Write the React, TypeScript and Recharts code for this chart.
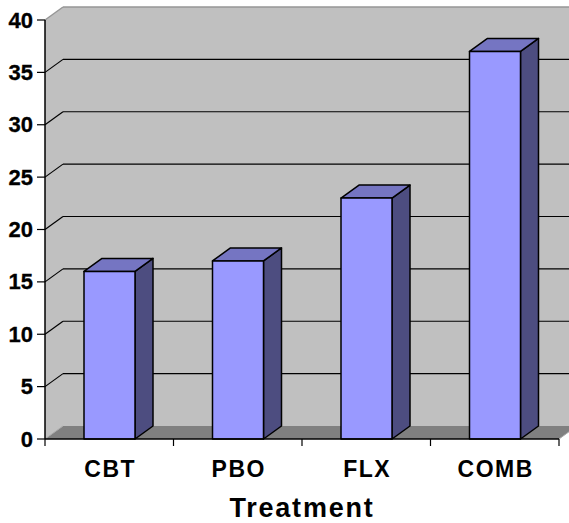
import React from 'react';
import { BarChart, Bar, XAxis, YAxis, CartesianGrid, ReferenceArea } from 'recharts';

// Treatment groups and their scores
const categories = ['CBT', 'PBO', 'FLX', 'COMB'];
const scores = [16, 17, 23, 37];
const yTicks = [0, 5, 10, 15, 20, 25, 30, 35, 40];
const xTitle = 'Treatment';

const data = categories.map((name, i) => ({ name, value: scores[i] }));

// 3D depth offset of the walls and boxes
const DX = 18;
const DY = -13;
const FONT = '"Liberation Sans", Arial, Helvetica, sans-serif';

const WALL = '#C0C0C0';
const FLOOR = '#808080';
const EDGE = '#969696';

// Side wall, back wall and floor behind the plot area
const Walls = (props: any) => {
  const { x, y, width, height } = props;
  const b = y + height;
  const r = x + width;
  return (
    <g>
      <polygon points={`${x},${b} ${x},${y} ${x + DX},${y + DY} ${x + DX},${b + DY}`} fill={WALL} />
      <rect x={x + DX} y={y + DY} width={width} height={height} fill={WALL} />
      <polygon points={`${x},${b} ${x + DX},${b + DY} ${r + DX},${b + DY} ${r},${b}`} fill={FLOOR} />
      <line x1={x} y1={y} x2={x + DX} y2={y + DY} stroke={EDGE} strokeWidth={1.5} />
      <line x1={x + DX} y1={y + DY} x2={r + DX} y2={y + DY} stroke={EDGE} strokeWidth={1.5} />
      <line x1={x} y1={b} x2={x + DX} y2={b + DY} stroke="#A8A8A8" strokeWidth={1} />
      <line x1={r} y1={b} x2={r + DX} y2={b + DY} stroke="#A8A8A8" strokeWidth={1} />
    </g>
  );
};

// Gridline that runs up the side wall and across the back wall
const GridLine = (props: any) => {
  const { x1, y1, x2, y, height } = props;
  const top = typeof y === 'number' ? y : NaN;
  const bottom = typeof y === 'number' && typeof height === 'number' ? y + height : NaN;
  if (Math.abs(y1 - top) < 0.5 || Math.abs(y1 - bottom) < 0.5) {
    return <g key={props.key} />;
  }
  return (
    <g key={props.key}>
      <line x1={x1} y1={y1} x2={x1 + DX} y2={y1 + DY} stroke="#000" strokeWidth={1.2} />
      <line x1={x1 + DX} y1={y1 + DY} x2={x2 + DX} y2={y1 + DY} stroke="#000" strokeWidth={1.2} />
    </g>
  );
};

// Box-shaped bar: front face, top and right side
const Box = (props: any) => {
  const { x, y, width, height } = props;
  if (!height) return null;
  const r = x + width;
  const b = y + height;
  return (
    <g stroke="#000" strokeWidth={1.5} strokeLinejoin="round">
      <polygon points={`${r},${y} ${r + DX},${y + DY} ${r + DX},${b + DY} ${r},${b}`} fill="#4D4D80" />
      <polygon points={`${x},${y} ${x + DX},${y + DY} ${r + DX},${y + DY} ${r},${y}`} fill="#7575C2" />
      <rect x={x} y={y} width={width} height={height} fill="#9999FF" />
    </g>
  );
};

const boldText: React.CSSProperties = { fontFamily: FONT, fontWeight: 700 };

// Value label on the vertical axis
const renderYTick = (props: any) => {
  const { x, y, payload, index } = props;
  return (
    <g key={`yt-${index}`}>
      <text x={x} y={y + 7.5} textAnchor="end" fontSize={22} fill="#000" stroke="#000" strokeWidth={0.3} style={boldText}>
        {String(payload.value)}
      </text>
    </g>
  );
};

// Category label with tick marks at the category boundaries
const XTick = (props: any) => {
  const { x, y, payload, index, visibleTicksCount } = props;
  const half = payload && typeof payload.offset === 'number' ? payload.offset : 64.25;
  const axisY = y - 7;
  const last = index === (visibleTicksCount ?? categories.length) - 1;
  return (
    <g>
      <line x1={x - half} y1={axisY} x2={x - half} y2={axisY + 7} stroke="#000" strokeWidth={1.2} />
      {last && <line x1={x + half} y1={axisY} x2={x + half} y2={axisY + 7} stroke="#000" strokeWidth={1.2} />}
      <text x={x + 1} y={y + 31} textAnchor="middle" fontSize={23} letterSpacing={1.5} fill="#000" style={boldText}>
        {payload.value}
      </text>
    </g>
  );
};

const XTitle = (props: any) => {
  const vb = props.viewBox || {};
  return (
    <text
      x={vb.x + vb.width / 2}
      y={vb.y + vb.height - 6}
      textAnchor="middle"
      fontSize={27}
      letterSpacing={1.8}
      fill="#000"
      style={boldText}
    >
      {xTitle}
    </text>
  );
};

export default function App() {
  return (
    <div style={{ position: 'absolute', left: 0, top: 0, background: '#fff' }}>
      <BarChart
        width={569}
        height={523}
        data={data}
        margin={{ top: 20, right: 10, left: 0, bottom: 0 }}
      >
        <ReferenceArea y1={0} y2={40} shape={Walls} ifOverflow="visible" zIndex={-200} />
        <CartesianGrid vertical={false} horizontal={GridLine} />
        <YAxis
          type="number"
          domain={[0, 40]}
          ticks={yTicks}
          width={45}
          interval={0}
          axisLine={{ stroke: '#000', strokeWidth: 1.5 }}
          tickLine={{ stroke: '#000', strokeWidth: 1.2 }}
          tickSize={8}
          tickMargin={4}
          tick={renderYTick}
        />
        <XAxis
          dataKey="name"
          height={84}
          axisLine={{ stroke: '#000', strokeWidth: 1.5 }}
          tickLine={false}
          tickSize={7}
          tickMargin={0}
          interval={0}
          tick={<XTick />}
          label={<XTitle />}
        />
        <Bar dataKey="value" barSize={51} shape={Box} isAnimationActive={false} />
      </BarChart>
    </div>
  );
}
